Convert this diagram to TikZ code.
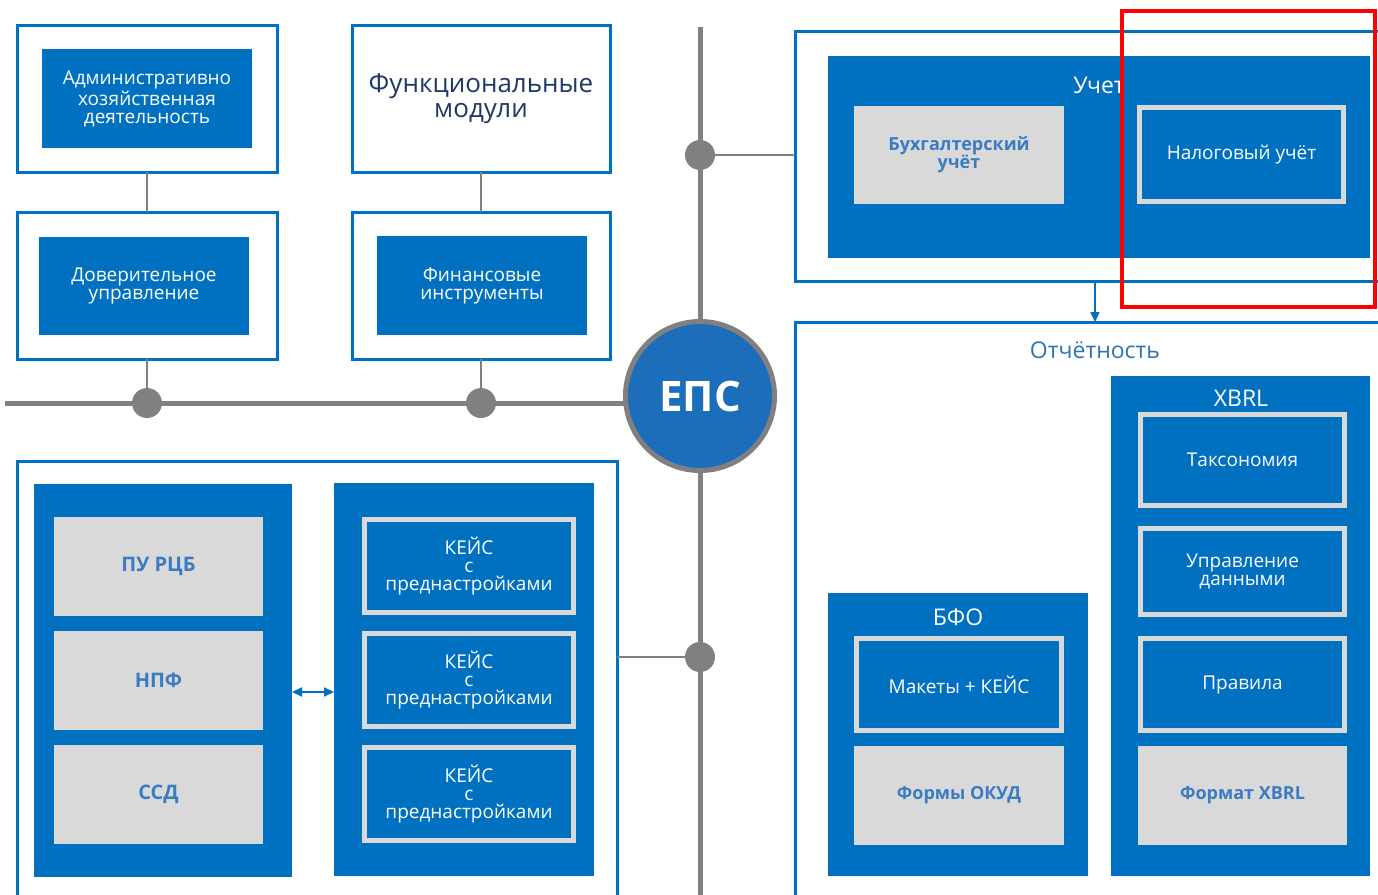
\documentclass[tikz,border=0pt]{standalone}
\usepackage{fontspec}
\setmainfont{Open Sans}
\usetikzlibrary{arrows.meta,calc}
\definecolor{bl}{HTML}{0070C0}
\definecolor{gl}{HTML}{D9D9D9}
\definecolor{gline}{HTML}{808080}
\definecolor{navy}{HTML}{1F3864}
\definecolor{btext}{HTML}{2E74B5}
\definecolor{gtext}{HTML}{3A7CC4}
\definecolor{epsblue}{HTML}{1C6EBA}
\begin{document}
\begin{tikzpicture}[x=0.5pt,y=-0.5pt,
 rect/.style n args={4}{rectangle, inner sep=0pt, outer sep=0pt,
   minimum width={(#3-#1)*0.5pt}, minimum height={(#4-#2)*0.5pt},
   at={({(#1+#3)/2},{(#2+#4)/2})}},
 outerbox/.style={draw=bl, line width=1.5pt, fill=white},
 bluebox/.style={fill=bl, text=white, align=center, font=\fontsize{9.5}{9}\selectfont},
 framebox/.style={fill=bl, draw=gl, line width=2.5pt, text=white, align=center, font=\fontsize{9.5}{9}\selectfont},
 graybox/.style={fill=gl, text=gtext, align=center, font=\fontsize{9}{9}\selectfont\bfseries},
 ttl/.style={text=white, font=\fontsize{11.5}{12}\selectfont, inner sep=0pt},
 bus/.style={draw=gline, line width=2.5pt},
 conn/.style={draw=gline, line width=1pt},
 junc/.style={circle, fill=gline, minimum size=15pt, inner sep=0pt},
 arrone/.style={-{Triangle[length=5pt,width=4.5pt]}},
 arrtwo/.style={{Triangle[length=5pt,width=4.5pt]}-{Triangle[length=5pt,width=4.5pt]}}
]
\fill[white] (0,0) rectangle (1378,895);
\useasboundingbox (0,0) rectangle (1378,895);
\clip (0,0) rectangle (1378,895);

% buses (drawn first, under the ЕПС circle)
\coordinate (busL) at (5,403);
\coordinate (busR) at (700,403);
\coordinate (vtop) at (700,27);
\coordinate (vbot) at (700,905);
\draw[bus] (busL) -- (busR);
\draw[bus] (vtop) -- (vbot);
\node[circle, fill=epsblue, draw=gline, line width=2.5pt, minimum size=74.5pt, inner sep=0pt, text=white, font=\fontsize{21}{21}\selectfont\bfseries] (eps) at (700,396) {ЕПС};

% top-left modules
\node[rect={17}{25}{277}{172}, outerbox] (o1) {};
\node[rect={42}{49}{252}{148}, bluebox] (adm) {Административно\\хозяйственная\\деятельность};
\node[rect={352}{25}{610}{172}, outerbox, text=navy, align=center, font=\fontsize{13}{12.5}\selectfont] (func) {Функциональные\\модули};
\node[rect={17}{212}{277}{359}, outerbox] (o3) {};
\node[rect={39}{237}{249}{335}, bluebox] (dov) {Доверительное\\управление};
\node[rect={352}{212}{610}{359}, outerbox] (o4) {};
\node[rect={377}{236}{587}{335}, bluebox] (fin) {Финансовые\\инструменты};

\draw[conn] (o1) -- (o3);
\draw[conn] (func) -- (o4);
\node[junc] (j1) at (147,403) {};
\node[junc] (j2) at (481,403) {};
\draw[conn] (o3) -- (j1);
\draw[conn] (o4) -- (j2);
\node[junc] (vj1) at (700,155) {};
\node[junc] (vj2) at (700,657) {};

% Учет
\node[rect={795}{31}{1385}{281}, outerbox] (uch) {};
\node[rect={828}{56}{1370}{258}, bluebox] (uchin) {};
\begin{scope}
\clip (800,60) rectangle (1120,120);
\node[ttl] (uchttl) at (1099,85) {Учет};
\end{scope}
\node[rect={854}{106}{1064}{204}, graybox] (buh) {Бухгалтерский\\учёт};
\node[rect={1139.5}{107.5}{1343.5}{201.5}, framebox] (nal) {Налоговый учёт};
\draw[conn] (vj1) -- (vj1 -| uch.west);

% Отчётность
\node[rect={795}{322}{1385}{905}, outerbox] (otch) {};
\node[text=btext, font=\fontsize{11.5}{12}\selectfont, inner sep=0pt] (otchttl) at (1095,350) {Отчётность};
\draw[arrone, bl, line width=0.75pt] (uch.south -| otchttl) -- (otch.north -| otchttl);

\node[rect={1111}{376}{1370}{876}, bluebox] (xbrl) {};
\node[ttl] (xbrlttl) at (1241,398) {XBRL};
\node[rect={1140.5}{414.5}{1344.5}{505.5}, framebox] (tax) {Таксономия};
\node[rect={1140.5}{528.5}{1344.5}{614.5}, framebox] (upr) {Управление\\данными};
\node[rect={1140.5}{638.5}{1344.5}{730.5}, framebox] (prav) {Правила};
\node[rect={1138}{746}{1347}{845}, graybox] (fx) {Формат XBRL};

\node[rect={828}{593}{1088}{876}, bluebox] (bfo) {};
\node[ttl] (bfottl) at (958,617) {БФО};
\node[rect={856.5}{638.5}{1061.5}{730.5}, framebox] (mak) {Макеты + КЕЙС};
\node[rect={854}{746}{1064}{845}, graybox] (okud) {Формы ОКУД};

% bottom-left
\node[rect={17}{461}{617}{905}, outerbox] (blk) {};
\node[rect={34}{484}{292}{877}, bluebox] (lp) {};
\node[rect={54}{517}{263}{616}, graybox, font=\fontsize{10}{10}\selectfont\bfseries] (pu) {ПУ РЦБ};
\node[rect={54}{631}{263}{730}, graybox, font=\fontsize{10}{10}\selectfont\bfseries] (npf) {НПФ};
\node[rect={54}{745}{263}{844}, graybox, font=\fontsize{10}{10}\selectfont\bfseries] (ssd) {ССД};
\node[rect={334}{483}{594}{876}, bluebox] (rp) {};
\node[rect={364.5}{519.5}{573.5}{612.5}, framebox] (k1) {КЕЙС\\с\\преднастройками};
\node[rect={364.5}{633.5}{573.5}{726.5}, framebox] (k2) {КЕЙС\\с\\преднастройками};
\node[rect={364.5}{747.5}{573.5}{840.5}, framebox] (k3) {КЕЙС\\с\\преднастройками};
\draw[conn] (vj2) -- (vj2 -| blk.east);
\coordinate (ay) at (0,692);
\draw[arrtwo, bl, line width=1pt] (lp.east |- ay) -- (rp.west |- ay);

% highlight
\draw[red, line width=2pt] (1122,11) rectangle (1375,307);
\end{tikzpicture}
\end{document}
